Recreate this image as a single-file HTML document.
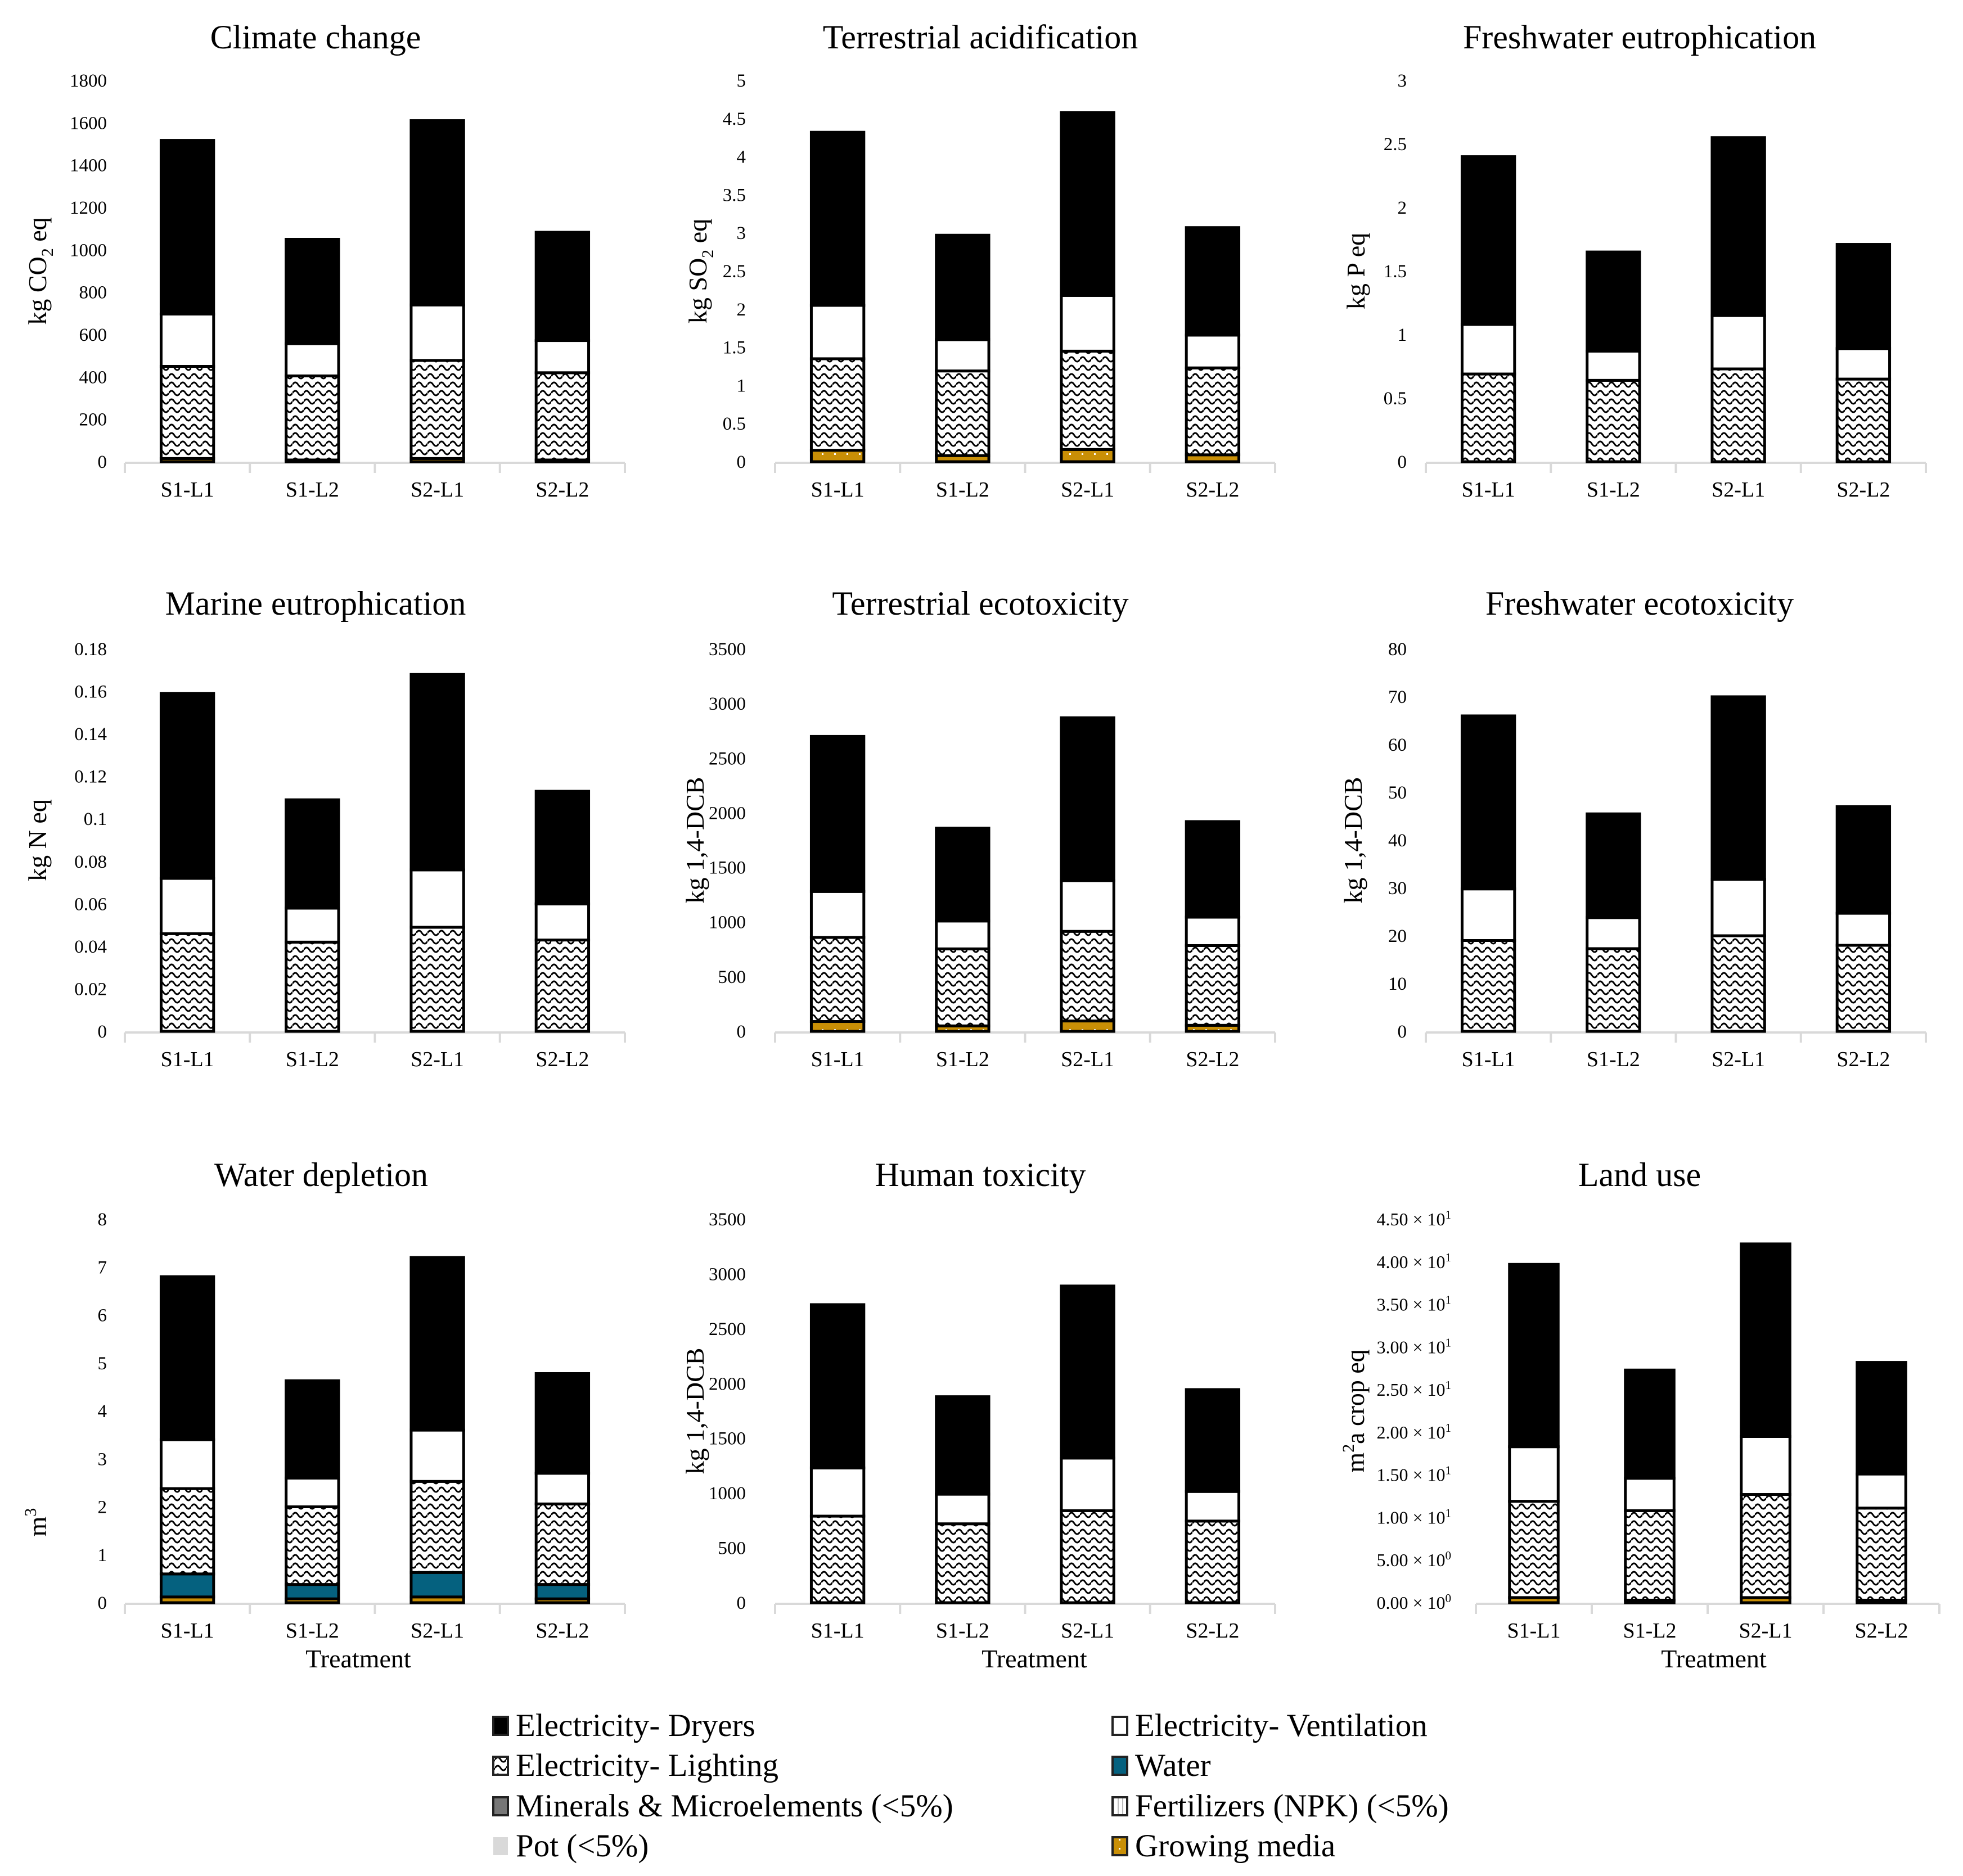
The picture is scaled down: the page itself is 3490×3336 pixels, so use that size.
<!DOCTYPE html>
<html><head><meta charset="utf-8">
<style>
html,body{margin:0;padding:0;background:#fff;}
svg{display:block;font-family:"Liberation Serif","Times New Roman",serif;}
</style></head>
<body>
<svg id="fig" width="3490" height="3336" viewBox="0 0 3490 3336" xmlns="http://www.w3.org/2000/svg">
<defs>
<pattern id="wave" patternUnits="userSpaceOnUse" width="20" height="15">
<rect width="20" height="15" fill="#fff"/>
<path d="M0 9 Q5 1 10 9 T20 9" fill="none" stroke="#000" stroke-width="3"/>
</pattern>
<pattern id="dots" patternUnits="userSpaceOnUse" width="22" height="16">
<rect width="22" height="16" fill="#c98f06"/>
<rect x="9" y="6" width="3" height="3" fill="#fff"/>
</pattern>
<pattern id="stripes" patternUnits="userSpaceOnUse" width="8" height="8">
<rect width="8" height="8" fill="#fff"/><rect x="3" width="2" height="8" fill="#bbb"/>
</pattern>
</defs>
<g id="charts"></g>
<g id="legend"></g>
</svg>
<script>
const categories = ["S1-L1","S1-L2","S2-L1","S2-L2"];

// Climate change (kg CO2 eq)
const ccGrowing = [15, 8, 15, 8];
const ccWater = [0, 0, 0, 0];
const ccLighting = [435, 397, 463, 412];
const ccVentilation = [247, 152, 262, 152];
const ccDryers = [820, 493, 870, 511];
const ccTicks = [0,200,400,600,800,1000,1200,1400,1600,1800];

// Terrestrial acidification
const taGrowing = [0.15, 0.08, 0.16, 0.09];
const taWater = [0, 0, 0, 0];
const taLighting = [1.2, 1.11, 1.29, 1.14];
const taVentilation = [0.7, 0.41, 0.73, 0.43];
const taDryers = [2.27, 1.37, 2.4, 1.41];
const taTicks = [0,0.5,1,1.5,2,2.5,3,3.5,4,4.5,5];

// Freshwater eutrophication
const feGrowing = [0, 0, 0, 0];
const feWater = [0, 0, 0, 0];
const feLighting = [0.69, 0.64, 0.73, 0.65];
const feVentilation = [0.39, 0.23, 0.42, 0.24];
const feDryers = [1.32, 0.78, 1.4, 0.82];
const feTicks = [0,0.5,1,1.5,2,2.5,3];

// Marine eutrophication
const meGrowing = [0, 0, 0, 0];
const meWater = [0, 0, 0, 0];
const meLighting = [0.046, 0.042, 0.049, 0.043];
const meVentilation = [0.026, 0.016, 0.027, 0.017];
const meDryers = [0.087, 0.051, 0.092, 0.053];
const meTicks = [0,0.02,0.04,0.06,0.08,0.1,0.12,0.14,0.16,0.18];

// Terrestrial ecotoxicity
const teGrowing = [90, 50, 95, 55];
const teWater = [0, 0, 0, 0];
const teLighting = [770, 705, 820, 730];
const teVentilation = [420, 255, 465, 260];
const teDryers = [1420, 850, 1490, 875];
const teTicks = [0,500,1000,1500,2000,2500,3000,3500];

// Freshwater ecotoxicity
const fxGrowing = [0, 0, 0, 0];
const fxWater = [0, 0, 0, 0];
const fxLighting = [19, 17.3, 20, 18];
const fxVentilation = [10.8, 6.5, 11.8, 6.7];
const fxDryers = [36.2, 21.7, 38.2, 22.3];
const fxTicks = [0,10,20,30,40,50,60,70,80];

// Water depletion
const wdGrowing = [0.12, 0.08, 0.12, 0.08];
const wdWater = [0.48, 0.3, 0.51, 0.3];
const wdLighting = [1.78, 1.62, 1.9, 1.68];
const wdVentilation = [1.02, 0.6, 1.07, 0.64];
const wdDryers = [3.4, 2.03, 3.6, 2.08];
const wdTicks = [0,1,2,3,4,5,6,7,8];

// Human toxicity
const htGrowing = [0, 0, 0, 0];
const htWater = [0, 0, 0, 0];
const htLighting = [790, 720, 840, 745];
const htVentilation = [440, 270, 480, 270];
const htDryers = [1490, 890, 1570, 930];
const htTicks = [0,500,1000,1500,2000,2500,3000,3500];

// Land use
const luGrowing = [0.6, 0.3, 0.6, 0.3];
const luWater = [0, 0, 0, 0];
const luLighting = [11.3, 10.5, 12.1, 10.8];
const luVentilation = [6.4, 3.8, 6.8, 4.0];
const luDryers = [21.4, 12.7, 22.6, 13.1];
const luTicks = [0,5,10,15,20,25,30,35,40,45];

const NS = "http://www.w3.org/2000/svg";
function mk(tag, attrs, parent){
  const e = document.createElementNS(NS, tag);
  for (const k in attrs) e.setAttribute(k, attrs[k]);
  parent.appendChild(e);
  return e;
}
function fmtLand(v){
  if (v === 0) return ["0.00","0"];
  if (v < 10) return [v.toFixed(2),"0"];
  return [(v/10).toFixed(2),"1"];
}

const charts = [
 {id:"climate-change", title:"Climate change", yl:["kg CO","2"," eq"], g:ccGrowing,w:ccWater,l:ccLighting,v:ccVentilation,d:ccDryers,t:ccTicks, x0:222, top:143, base:821, aw:889, tx:561, ty:86, lx:190, ax:67},
 {id:"terrestrial-acidification", title:"Terrestrial acidification", yl:["kg SO","2"," eq"], g:taGrowing,w:taWater,l:taLighting,v:taVentilation,d:taDryers,t:taTicks, x0:1378, top:143, base:821, aw:889, tx:1743, ty:86, lx:1326, ax:1241},
 {id:"freshwater-eutrophication", title:"Freshwater eutrophication", yl:["kg P eq"], g:feGrowing,w:feWater,l:feLighting,v:feVentilation,d:feDryers,t:feTicks, x0:2535, top:143, base:821, aw:889, tx:2915, ty:86, lx:2501, ax:2411},
 {id:"marine-eutrophication", title:"Marine eutrophication", yl:["kg N eq"], g:meGrowing,w:meWater,l:meLighting,v:meVentilation,d:meDryers,t:meTicks, x0:222, top:1154, base:1834, aw:889, tx:561, ty:1093, lx:190, ax:67},
 {id:"terrestrial-ecotoxicity", title:"Terrestrial ecotoxicity", yl:["kg 1,4-DCB"], g:teGrowing,w:teWater,l:teLighting,v:teVentilation,d:teDryers,t:teTicks, x0:1378, top:1154, base:1834, aw:889, tx:1743, ty:1093, lx:1326, ax:1236},
 {id:"freshwater-ecotoxicity", title:"Freshwater ecotoxicity", yl:["kg 1,4-DCB"], g:fxGrowing,w:fxWater,l:fxLighting,v:fxVentilation,d:fxDryers,t:fxTicks, x0:2535, top:1154, base:1834, aw:889, tx:2915, ty:1093, lx:2501, ax:2406},
 {id:"water-depletion", title:"Water depletion", yl:["m","3",""], sup:true, ymid:2707, g:wdGrowing,w:wdWater,l:wdLighting,v:wdVentilation,d:wdDryers,t:wdTicks, x0:222, top:2168, base:2850, aw:889, tx:571, ty:2109, lx:190, ax:67, xt:637},
 {id:"human-toxicity", title:"Human toxicity", yl:["kg 1,4-DCB"], g:htGrowing,w:htWater,l:htLighting,v:htVentilation,d:htDryers,t:htTicks, x0:1378, top:2168, base:2850, aw:889, tx:1743, ty:2109, lx:1326, ax:1236, xt:1839},
 {id:"land-use", title:"Land use", yl:["m","2","a crop eq"], sup:true, g:luGrowing,w:luWater,l:luLighting,v:luVentilation,d:luDryers,t:luTicks, x0:2624, top:2168, base:2850, aw:824, tx:2915, ty:2109, lx:2580, ax:2410, xt:3047, land:true}
];

const root = document.getElementById("charts");
charts.forEach(c => {
  const g = mk("g", {}, root);
  
  
  const max = c.t[c.t.length-1];
  const H = c.base - c.top;
  const y = v => c.base - v / max * H;
  const cw = c.aw / categories.length;
  const xc = i => c.x0 + cw * (i + 0.5);
  const bw = cw * 0.42;

  const title = mk("text", {x:c.tx, y:c.ty, "font-size":60, "text-anchor":"middle"}, g);
  title.textContent = c.title;
  
  

  c.t.forEach(tv => {
    const t = mk("text", {x:c.lx, y:y(tv)+11, "font-size":c.land ? 32 : 33, "text-anchor":"end", textLength: null}, g);
    t.removeAttribute("textLength");
    
    
    if (c.land) {
      const f = fmtLand(tv);
      t.textContent = f[0] + " \u00d7 10";
      const s = mk("tspan", {"font-size":21, dy:-12}, t);
      s.textContent = f[1];
    } else {
      t.textContent = String(tv);
    }
  });

  const ym = c.ymid || (c.top + c.base) / 2;
  const yt = mk("text", {transform:"translate("+(c.ax+15)+","+ym+") rotate(-90)", "font-size":46, "text-anchor":"middle"}, g);
  
  
  if (c.yl.length === 1) yt.textContent = c.yl[0];
  else {
    const a = mk("tspan", {}, yt); a.textContent = c.yl[0];
    const b = mk("tspan", {"font-size":30, dy: c.sup ? -18 : 12}, yt); b.textContent = c.yl[1];
    const d = mk("tspan", {dy: c.sup ? 18 : -12}, yt); d.textContent = c.yl[2];
  }

  mk("line", {x1:c.x0, y1:c.base+2, x2:c.x0+c.aw, y2:c.base+2, stroke:"#d9d9d9", "stroke-width":4}, g);
  for (let i=0;i<=categories.length;i++){
    mk("line", {x1:c.x0+cw*i, y1:c.base+2, x2:c.x0+cw*i, y2:c.base+20, stroke:"#d9d9d9", "stroke-width":4}, g);
  }

  categories.forEach((cat, i) => {
    const lab = mk("text", {x:xc(i), y:c.base+62, "font-size":38, "text-anchor":"middle"}, g);
    lab.textContent = cat;
    
    
    const series = [
      [c.g[i], "url(#dots)", "growing-media"],
      [c.w[i], "#05617f", "water"],
      [c.l[i], "url(#wave)", "electricity-lighting"],
      [c.v[i], "#ffffff", "electricity-ventilation"],
      [c.d[i], "#000000", "electricity-dryers"]
    ];
    let cum = 0;
    series.forEach(s => {
      if (s[0] <= 0) return;
      const y1 = y(cum + s[0]), y0 = y(cum);
      const r = mk("rect", {x:xc(i)-bw/2, y:y1, width:bw, height:Math.max(y0-y1,1), fill:s[1], stroke:"#000", "stroke-width":5}, g);
      
      
      cum += s[0];
    });
  });

  if (c.xt) {
    const xt = mk("text", {x:c.xt, y:c.base+115, "font-size":46, "text-anchor":"middle"}, g);
    xt.textContent = "Treatment";
    
    
  }
});

const legendItems = [
  ["Electricity- Dryers", "#000", 877, 3065],
  ["Electricity- Ventilation", "#fff", 1978, 3065],
  ["Electricity- Lighting", "url(#wave)", 877, 3136],
  ["Water", "#05617f", 1978, 3136],
  ["Minerals & Microelements (<5%)", "#777", 877, 3208],
  ["Fertilizers (NPK) (<5%)", "url(#stripes)", 1978, 3208],
  ["Pot (<5%)", "#d9d9d9", 877, 3279],
  ["Growing media", "url(#dots)", 1978, 3279]
];
const lg = document.getElementById("legend");
legendItems.forEach(it => {
  const g = mk("g", {}, lg);
  
  
  const noStroke = it[0].startsWith("Pot");
  mk("rect", {x:it[2], y:it[3]-12, width:26, height:32, fill:it[1], stroke: noStroke ? "none" : "#222", "stroke-width":4}, g);
  const t = mk("text", {x:it[2]+40, y:it[3]+22, "font-size":57}, g);
  t.textContent = it[0];
});
</script>
</body></html>
